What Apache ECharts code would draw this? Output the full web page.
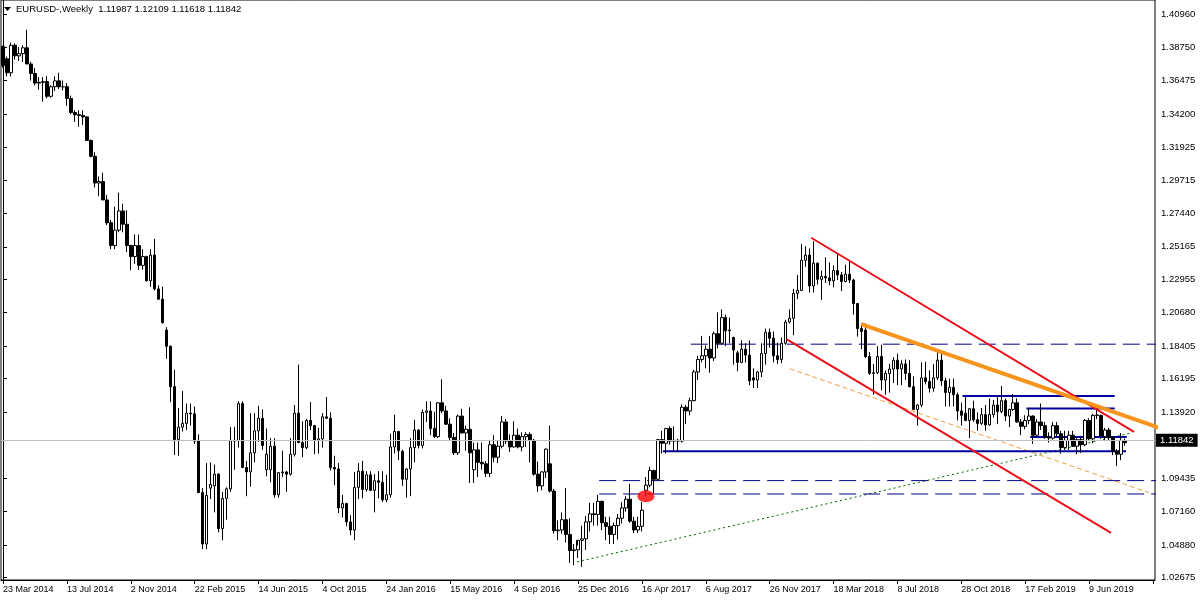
<!DOCTYPE html>
<html><head><meta charset="utf-8">
<script src="https://cdn.jsdelivr.net/npm/echarts@6/dist/echarts.min.js"></script>
<style>html,body{margin:0;padding:0;background:#fff}#c{width:1200px;height:600px}</style>
</head><body><div id="c"></div>
<script>
// ---------- text ----------
const symbolTitle = 'EURUSD-,Weekly';
const lastQuote = ['1.11987', '1.12109', '1.11618', '1.11842'];
const currentPrice = 1.11842;
const firstWeek = '2014-03-23';
const slotCount = 289; // bars + empty right margin
const tickLabels = ['23 Mar 2014','13 Jul 2014','2 Nov 2014','22 Feb 2015','14 Jun 2015','4 Oct 2015','24 Jan 2016','15 May 2016','4 Sep 2016','25 Dec 2016','16 Apr 2017','6 Aug 2017','26 Nov 2017','18 Mar 2018','8 Jul 2018','28 Oct 2018','17 Feb 2019','9 Jun 2019'];
const priceTicks = [1.02675,1.04880,1.07160,1.09435,1.13920,1.16195,1.18405,1.20680,1.22955,1.25165,1.27440,1.29715,1.31925,1.34200,1.36475,1.38750,1.40960];

// ---------- weekly OHLC, [open, high, low, close] x 1e4 ----------
const w2014 = [
[13878,13885,13735,13750],[13795,13810,13675,13700],[13700,13905,13675,13887],[13887,13900,13790,13815],
[13815,13876,13780,13830],[13830,13888,13773,13870],[13870,13993,13760,13760],[13760,13775,13647,13695],
[13695,13732,13614,13630],[13630,13670,13585,13635],[13635,13670,13503,13640],[13640,13677,13526,13540],
[13540,13616,13530,13605],[13605,13676,13575,13645],[13645,13700,13590,13605],[13605,13648,13580,13605],
[13605,13630,13475,13525],[13525,13545,13418,13430],[13430,13445,13366,13415],[13415,13445,13333,13410],
[13410,13445,13345,13400],[13400,13405,13240,13240],[13240,13245,13125,13132],[13132,13160,12920,12950],
[12950,12995,12860,12960],[12960,13020,12835,12835],[12835,12870,12665,12680],[12680,12700,12500,12525],
[12525,12790,12500,12630],[12630,12885,12615,12760],[12760,12810,12615,12670],[12670,12765,12480,12525],
[12525,12530,12357,12450],[12450,12600,12400,12525],[12525,12600,12360,12390],[12390,12500,12360,12450],
[12450,12455,12280,12285],[12285,12500,12245,12460],[12460,12570,12220,12230],[12230,12255,12155,12160],
[12160,12245,11995,12000]
];
const w2015 = [
[11950,11970,11755,11840],[11840,11845,11460,11565],[11565,11680,11100,11205],[11205,11420,11095,11290],
[11290,11535,11260,11315],[11315,11450,11270,11385],[11385,11450,11300,11380],[11380,11430,11175,11195],
[11195,11240,10840,10845],[10845,10875,10460,10495],[10495,11045,10460,10825],[10875,11050,10800,10900],
[10890,11035,10710,10970],[10970,10975,10575,10600],[10600,10850,10520,10805],[10805,10880,10660,10870],
[10870,11290,10850,11200],[11200,11290,11000,11195],[11200,11465,11150,11450],[11450,11465,11010,11015],
[11015,11060,10820,10985],[10985,11385,10885,11115],[11115,11385,11050,11265],[11265,11435,11190,11350],
[11350,11410,11135,11165],[11000,11280,10955,11105],[11000,11215,10915,11160],[11160,11215,10810,10830],
[10830,10985,10810,10980],[10980,11130,10950,10985],[10985,10990,10850,10970],[10970,11215,10960,11105],
[11105,11440,11090,11385],[11385,11715,11180,11185],[11185,11330,11085,11150],[11150,11345,11140,11335],
[11335,11460,11270,11300],[11300,11305,11105,11200],[11200,11285,11110,11210],[11210,11385,11150,11360],
[11360,11495,11345,11350],[11350,11390,10995,11015],[11015,11095,10895,11005],[11005,11045,10705,10740],
[10740,10830,10675,10770],[10770,10775,10615,10645],[10645,10690,10555,10590],[10590,10985,10520,10880],
[10880,11045,10800,10990],[10990,11060,10805,10865],[10865,10990,10850,10965],[10965,10990,10855,10860]
];
const w2016 = [
[10860,10970,10710,10925],[10925,10990,10805,10915],[10915,10990,10780,10795],[10795,10965,10780,10830],
[10830,11245,10810,11155],[11155,11375,11110,11260],[11260,11265,11065,11130],[11125,11135,10890,10935],
[10935,11010,10810,11005],[11005,11215,10820,11150],[11150,11340,11050,11270],[11270,11275,11145,11165],
[11165,11410,11145,11390],[11390,11465,11325,11400],[11400,11465,11235,11280],[11280,11395,11215,11225],
[11225,11460,11215,11455],[11455,11615,11385,11400],[11400,11435,11305,11310],[11310,11350,11200,11220],
[11220,11250,11100,11115],[11115,11375,11100,11365],[11365,11415,11245,11250],[11250,11300,11130,11275],
[11275,11425,10910,11115],[11000,11185,10910,11135],[11135,11185,10950,11050],[11050,11185,11000,11040],
[11040,11060,10950,10975],[10975,11200,10950,11170],[11170,11235,11050,11085],[11085,11200,11045,11160],
[11160,11365,11145,11325],[11325,11345,11175,11195],[11195,11240,11120,11155],[11155,11330,11150,11235],
[11235,11280,11145,11155],[11155,11255,11125,11225],[11225,11255,11155,11240],[11240,11255,11050,11200],
[11200,11210,10960,10970],[10970,11055,10850,10890],[10890,10990,10860,10985],[10985,11145,10945,11140],
[11040,11300,10845,10855],[10855,10870,10565,10585],[10585,10655,10520,10590],[10590,10710,10565,10660],
[10660,10875,10505,10560],[10560,10670,10365,10450],[10450,10495,10350,10455],[10455,10485,10400,10520]
];
const w2017 = [
[10520,10620,10340,10530],[10530,10685,10455,10645],[10645,10775,10580,10700],[10700,10775,10620,10695],
[10695,10830,10620,10785],[10785,10790,10590,10640],[10640,10680,10520,10615],[10615,10680,10495,10560],
[10560,10640,10495,10620],[10620,10700,10525,10670],[10670,10780,10635,10740],[10740,10820,10715,10800],
[10800,10905,10640,10650],[10650,10680,10570,10590],[10590,10680,10570,10615],[10615,10780,10580,10725],
[10860,10950,10820,10895],[10895,11020,10880,10995],[10995,11000,10840,10935],[10935,11210,10925,11205],
[11205,11265,11110,11180],[11180,11285,11110,11280],[11280,11295,11170,11195],[11195,11295,11130,11200],
[11200,11210,11120,11195],[11195,11445,11185,11425],[11425,11440,11310,11400],[11400,11490,11370,11470],
[11470,11680,11465,11665],[11665,11775,11610,11750],[11750,11910,11730,11775],[11775,11845,11690,11820],
[11820,11910,11660,11760],[11760,11940,11740,11925],[11925,12070,11825,11860],[11860,12090,11850,12035],
[12035,12055,11840,11945],[11945,12035,11860,11950],[11900,11905,11715,11815],[11795,11810,11670,11730],
[11730,11880,11725,11820],[11820,11860,11730,11780],[11780,11880,11575,11605],[11625,11690,11555,11610],
[11610,11670,11555,11665],[11665,11860,11630,11790],[11790,11960,11715,11935],[11935,11960,11830,11895],
[11895,11940,11730,11775],[11775,11865,11720,11750],[11750,11900,11725,11860],[11860,12020,11850,12005]
];
const w2018 = [
[12005,12090,11995,12030],[12030,12230,11915,12200],[12200,12325,12160,12220],[12220,12535,12215,12425],
[12425,12520,12380,12460],[12460,12505,12205,12250],[12250,12555,12205,12405],[12405,12410,12260,12295],
[12295,12355,12155,12315],[12315,12445,12270,12305],[12305,12410,12255,12285],[12285,12390,12240,12355],
[12355,12475,12290,12325],[12325,12345,12215,12280],[12280,12395,12275,12330],[12330,12415,12270,12290],
[12290,12300,12055,12130],[12130,12135,11905,11960],[11960,11995,11820,11940],[11950,11995,11760,11770],
[11770,11800,11645,11655],[11655,11720,11510,11660],[11660,11840,11650,11770],[11770,11850,11540,11610],
[11610,11675,11510,11655],[11655,11720,11525,11685],[11685,11765,11590,11745],[11745,11790,11575,11685],
[11685,11745,11575,11720],[11720,11750,11610,11655],[11655,11745,11560,11565],[11565,11635,11405,11410],
[11410,11445,11300,11440],[11440,11730,11425,11625],[11625,11735,11580,11600],[11600,11675,11525,11555],
[11555,11720,11530,11625],[11625,11815,11610,11745],[11745,11795,11570,11605],[11605,11625,11430,11525],
[11525,11620,11430,11560],[11560,11620,11430,11510],[11510,11525,11335,11400],[11400,11455,11300,11370],
[11385,11500,11330,11335],[11335,11420,11215,11415],[11415,11470,11325,11340],[11340,11390,11265,11315],
[11315,11420,11305,11375],[11375,11440,11265,11305],[11305,11485,11300,11375],[11375,11475,11355,11440],
[11440,11500,11310,11395]
];
const w2019 = [
[11395,11570,11385,11470],[11470,11485,11330,11365],[11365,11415,11290,11410],[11410,11515,11400,11455],
[11455,11485,11320,11325],[11325,11345,11235,11295],[11295,11370,11275,11335],[11335,11420,11310,11365],
[11365,11370,11175,11235],[11235,11345,11225,11325],[11325,11450,11270,11300],[11300,11325,11210,11220],
[11220,11255,11185,11215],[11215,11325,11205,11300],[11300,11325,11225,11245],[11245,11265,11110,11150],
[11150,11265,11135,11200],[11200,11265,11135,11235],[11235,11265,11155,11160],[11160,11215,11105,11205],
[11205,11220,11115,11170],[11170,11345,11160,11335],[11335,11350,11200,11210],[11210,11380,11180,11370],
[11370,11410,11345,11372],[11370,11375,11210,11225],[11225,11285,11195,11270],[11270,11285,11200,11220],
[11220,11225,11100,11125],[11125,11140,11025,11105],[11105,11250,11065,11200],[11199,11211,11162,11184]
];

// ---------- drawn annotations, [bar index, price] ----------
const redChannelUpper = [[202.4, 1.2578], [283.25, 1.1258]];
const redChannelLower = [[196.2, 1.1888], [277.5, 1.0571]];
const orangeTrend = [[214.9, 1.1991], [292.0, 1.1262]];
const orangeThinTrend = [[197.0, 1.1687], [287.0, 1.0844]];
const greenDotted = [[143.75, 1.0373], [282.5, 1.1250]];
const blueSolidA = [[165.25, 1.1126], [281.25, 1.1126]];
const blueSolidB = [[240.3, 1.1501], [278.4, 1.1501]];
const blueSolidC = [[256.3, 1.1417], [278.4, 1.1417]];
const blueSolidD = [[257.25, 1.1222], [281.4, 1.1222]];
const blueDashE = [[172.25, 1.1854], [292, 1.1854]];
const blueDashF = [[149.3, 1.0926], [292, 1.0926]];
const blueDashG = [[149.3, 1.0835], [292, 1.0835]];
const redMark = [[161, 1.0819]];

// ---------- build ----------
const weeks = [].concat(w2014, w2015, w2016, w2017, w2018, w2019);
const candles = weeks.map(r => [r[0] / 1e4, r[3] / 1e4, r[2] / 1e4, r[1] / 1e4]);
const cats = [];
const t0 = Date.parse(firstWeek + 'T00:00:00Z');
for (let i = 0; i < slotCount; i++) cats.push(new Date(t0 + i * 7 * 86400000).toISOString().slice(0, 10));

const FONT = 'Liberation Sans';
function seg(data, color, width, type, z) {
  return { type: 'line', xAxisIndex: 1, yAxisIndex: 0, data: data, symbol: 'none', silent: true,
    clip: true, animation: false, z: z || 3,
    lineStyle: { color: color, width: width, type: type || 'solid', cap: 'butt' } };
}

const chart = echarts.init(document.getElementById('c'), null, { renderer: 'canvas' });
chart.setOption({
  animation: false,
  backgroundColor: '#ffffff',
  textStyle: { fontFamily: FONT },
  grid: { left: 0, right: 45, top: 0, bottom: 20, show: true, borderColor: '#000', borderWidth: 1 },
  xAxis: [{
    type: 'category', data: cats, boundaryGap: true,
    axisLine: { show: true, lineStyle: { color: '#000', width: 1 } },
    axisTick: { show: true, interval: 15, alignWithLabel: true, length: 4, lineStyle: { color: '#000' } },
    axisLabel: { interval: 15, align: 'left', margin: 5, color: '#000', fontSize: 9, fontFamily: FONT,
      formatter: function (v, i) { const s = tickLabels[Math.round(i / 16)]; return (i % 16 === 0 && s) ? s : ''; } },
    splitLine: { show: false }
  }, {
    type: 'value', min: -0.5, max: slotCount - 0.5, show: false
  }],
  yAxis: [{
    type: 'value', position: 'right', min: 1.0250, max: 1.4195, scale: true,
    axisLine: { show: true, lineStyle: { color: '#000' } },
    axisTick: { show: true, length: 4, customValues: priceTicks, lineStyle: { color: '#000' } },
    axisLabel: { customValues: priceTicks, margin: 6, color: '#000', fontSize: 9.5, fontFamily: FONT,
      formatter: function (v) { return v.toFixed(5); } },
    splitLine: { show: false }
  }],
  series: [
    {
      type: 'candlestick', xAxisIndex: 0, yAxisIndex: 0, data: candles, barWidth: 3, z: 4,
      itemStyle: { color: '#ffffff', color0: '#000000', borderColor: '#000000', borderColor0: '#000000', borderWidth: 1 },
      markLine: {
        silent: true, symbol: ['none', 'none'], animation: false,
        lineStyle: { color: '#c0c0c0', width: 1, type: 'solid' },
        data: [{ yAxis: currentPrice }],
        label: { show: true, position: 'end', distance: 1, formatter: currentPrice.toFixed(5),
          backgroundColor: '#000', color: '#fff', fontSize: 9.5, fontFamily: FONT, padding: [2, 4, 1, 4] }
      }
    },
    seg(greenDotted, '#006400', 1, [2, 3]),
    seg(orangeThinTrend, '#f0a040', 1, [5, 3]),
    seg(blueDashE, '#000080', 1, [17, 7]),
    seg(blueDashF, '#000080', 1, [17, 7]),
    seg(blueDashG, '#000080', 1, [17, 7]),
    seg(blueSolidA, '#0000a0', 2),
    seg(blueSolidB, '#0000a0', 2),
    seg(blueSolidC, '#0000a0', 2),
    seg(blueSolidD, '#0000a0', 2),
    seg(redChannelUpper, '#e8101a', 2, 'solid', 6),
    seg(redChannelLower, '#e8101a', 2, 'solid', 6),
    seg(orangeTrend, '#f7941d', 4, 'solid', 6),
    { type: 'scatter', xAxisIndex: 1, yAxisIndex: 0, data: redMark, symbol: 'circle', symbolSize: [17, 12],
      itemStyle: { color: '#ff0000' }, silent: true, z: 7 }
  ],
  graphic: [
    { type: 'polygon', shape: { points: [[4, 7], [11, 7], [7.5, 11]] }, style: { fill: '#000' } },
    { type: 'text', left: 16, top: 4, style: { text: symbolTitle + '  ' + lastQuote.join(' '), fill: '#000', font: '9.5px "Liberation Sans"' } }
  ]
});
</script>
</body></html>
